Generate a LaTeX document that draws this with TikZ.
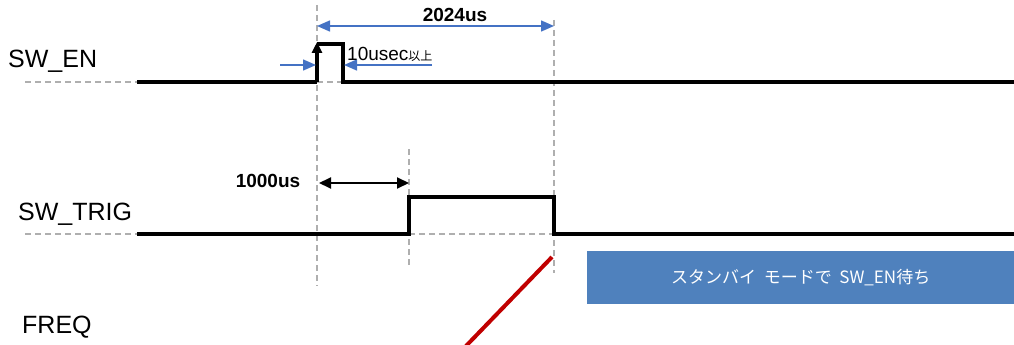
\documentclass[tikz,border=0pt]{standalone}
\usepackage{fontspec}
\setmainfont{Liberation Sans}
\newfontfamily\jpfont{Noto Sans CJK JP}
\usepackage{tikz}
\usetikzlibrary{arrows.meta, positioning, calc}

\definecolor{guidegray}{RGB}{175,175,175}
\definecolor{markblue}{RGB}{68,114,196}
\definecolor{boxblue}{RGB}{79,129,189}
\definecolor{freqred}{RGB}{192,0,0}

\begin{document}
\begin{tikzpicture}[
    x=1pt, y=-1pt,
    signal/.style={line width=3.2pt, line join=miter, black},
    guide/.style={line width=1.5pt, guidegray, dash pattern=on 6pt off 4pt},
    signame/.style={anchor=west, inner sep=0pt, font=\fontsize{25}{30}\selectfont},
    timelabel/.style={inner sep=0pt, font=\fontsize{19}{22}\selectfont\bfseries},
    bluemark/.style={line width=1.5pt, markblue, -{Triangle[length=13pt, width=11pt]}},
    blackmark/.style={line width=2pt, black, {Triangle[length=12pt, width=11pt]}-{Triangle[length=12pt, width=11pt]}},
    statebox/.style={rectangle, fill=boxblue, text=white, inner sep=0pt, font=\jpfont\fontsize{17}{20}\selectfont}
]
\useasboundingbox (0,0) rectangle (1014,345);

% Timing marks
\coordinate (en_up) at (317,82);
\coordinate (en_dn) at (343,82);
\coordinate (trig_up) at (409,234);
\coordinate (trig_dn) at (554,234);

% Vertical guide lines
\draw[guide] (317,5) -- (317,286);
\draw[guide] (409,149) -- (409,268);
\draw[guide] (554,20) -- (554,273);

% Signal names
\node[signame] (en_name) at (8,61) {SW\_EN};
\node[signame] (trig_name) at (18,214) {SW\_TRIG};
\node[signame] (freq_name) at (22,327) {FREQ};

% SW_EN waveform
\draw[guide] (25,82) -- (137,82);
\draw[guide] (en_up) -- (en_dn);
\draw[signal] (137,82) -- (en_up);
\draw[signal, -{Triangle[length=11pt, width=10pt]}] (en_up) -- (317,42);
\draw[signal] (317,44) -- (343,44) -- (en_dn) -- (1014,82);

% 10usec pulse width
\coordinate (pw_l) at (280,65);
\coordinate (pw_r) at (432,65);
\draw[bluemark] (pw_l) -- (316,65);
\draw[bluemark] (pw_r) -- (344,65);
\node[anchor=base west, inner sep=0pt] (pw_text) at (347,60)
    {\fontsize{19}{22}\selectfont 10usec\jpfont\fontsize{12}{14}\selectfont 以上};

% 2024us span
\coordinate (span_l) at (317,26);
\coordinate (span_r) at (554,26);
\draw[markblue, line width=1.5pt, {Triangle[length=13pt, width=11pt]}-{Triangle[length=13pt, width=11pt]}] (span_l) -- (span_r);
\node[timelabel] (span_text) at (455,15) {2024us};

% SW_TRIG waveform
\draw[guide] (25,234) -- (137,234);
\draw[guide] (trig_up) -- (trig_dn);
\draw[signal] (137,234) -- (trig_up) -- (409,197) -- (554,197) -- (trig_dn) -- (1014,234);

% 1000us delay
\coordinate (dly_l) at (319,183);
\coordinate (dly_r) at (409,183);
\draw[blackmark] (dly_l) -- (dly_r);
\node[timelabel] (dly_text) at (268,181) {1000us};

% Standby state
\node[statebox, minimum width=427pt, minimum height=53pt, anchor=north west] (standby) at (587,251)
    {スタンバイ\ \ モードで\ \ SW\_EN待ち};

% FREQ ramp
\draw[freqred, line width=4pt] (552,257) -- (466,346);

\end{tikzpicture}
\end{document}
